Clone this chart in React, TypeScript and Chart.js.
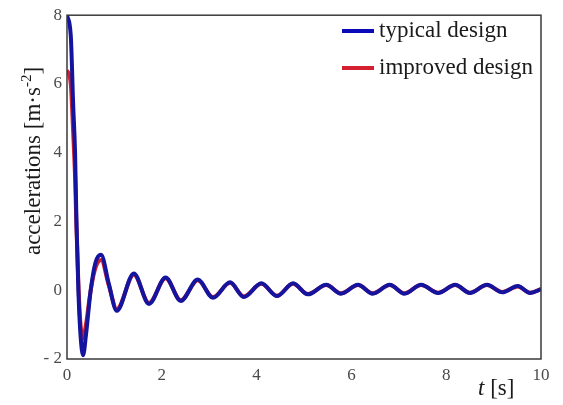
import React, { useEffect, useRef } from "react";
import { Chart, registerables } from "chart.js";

Chart.register(...registerables);

const timeS = [0, 0.08, 0.13, 0.17, 0.2, 0.24, 0.28, 0.34, 0.4, 0.5, 0.6, 0.72, 0.88, 1.05, 1.41, 1.73, 2.08, 2.4, 2.76, 3.08, 3.44, 3.73, 4.1, 4.43, 4.77, 5.08, 5.47, 5.78, 6.14, 6.45, 6.81, 7.12, 7.47, 7.83, 8.19, 8.5, 8.86, 9.18, 9.51, 9.77, 10];
const typicalDesign = [8, 7.4, 5.4, 4, 2, 0, -1.2, -1.89, -1.3, 0, 0.8, 1.03, 0.2, -0.6, 0.49, -0.4, 0.37, -0.31, 0.31, -0.22, 0.23, -0.2, 0.2, -0.17, 0.2, -0.12, 0.16, -0.1, 0.16, -0.1, 0.16, -0.1, 0.16, -0.08, 0.16, -0.08, 0.16, -0.06, 0.12, -0.08, 0.03];
const improvedDesign = [6.4, 6.0, 4.6, 3.3, 1.8, 0.2, -0.9, -1.4, -1.0, 0, 0.65, 0.88, 0.15, -0.55, 0.45, -0.37, 0.35, -0.29, 0.29, -0.2, 0.22, -0.18, 0.19, -0.16, 0.19, -0.11, 0.15, -0.09, 0.15, -0.09, 0.15, -0.09, 0.15, -0.07, 0.15, -0.07, 0.15, -0.05, 0.11, -0.07, 0.03];
const seriesLabels = ["typical design", "improved design"];
const seriesColors = ["#14149e", "#d0202c"];
const legendColors = ["#0a0ab8", "#d42030"];
const yTitleMain = "accelerations [m·s";
const yTitleSup = "-2";
const yTitleEnd = "]";
const xTitleVar = "t";
const xTitleUnit = " [s]";

const SERIF = "'Liberation Serif', 'Times New Roman', serif";

export default function App() {
  const ref = useRef<HTMLCanvasElement | null>(null);
  useEffect(() => {
    document.body.style.margin = "0";
    const canvas = ref.current;
    if (!canvas) return;

    const overlay = {
      id: "overlay",
      afterDatasetsDraw(chart: any) {
        const ctx = chart.ctx;
        const a = chart.chartArea;
        ctx.save();
        // frame
        ctx.strokeStyle = "#3a3a3a";
        ctx.lineWidth = 1.5;
        ctx.strokeRect(a.left, a.top, a.right - a.left, a.bottom - a.top);

        // legend
        ctx.textBaseline = "middle";
        ctx.textAlign = "left";
        ctx.font = `23px ${SERIF}`;
        const rows = [31, 68];
        chart.data.datasets.forEach((ds: any, i: number) => {
          const y = rows[i];
          ctx.strokeStyle = legendColors[i];
          ctx.lineWidth = 4;
          ctx.beginPath();
          ctx.moveTo(342, y);
          ctx.lineTo(374, y);
          ctx.stroke();
          ctx.fillStyle = "#1a1a1a";
          ctx.fillText(ds.label, 379, y);
        });

        // y title (rotated, with superscript)
        ctx.save();
        ctx.translate(32, 161);
        ctx.rotate(-Math.PI / 2);
        ctx.fillStyle = "#1a1a1a";
        ctx.textBaseline = "alphabetic";
        ctx.font = `23px ${SERIF}`;
        const wMain = ctx.measureText(yTitleMain).width;
        const wEnd = ctx.measureText(yTitleEnd).width;
        ctx.font = `15px ${SERIF}`;
        const wSup = ctx.measureText(yTitleSup).width;
        const total = wMain + wSup + wEnd;
        let x0 = -total / 2;
        const base = 8;
        ctx.font = `23px ${SERIF}`;
        ctx.fillText(yTitleMain, x0, base);
        x0 += wMain;
        ctx.font = `15px ${SERIF}`;
        ctx.fillText(yTitleSup, x0, base - 9);
        x0 += wSup;
        ctx.font = `23px ${SERIF}`;
        ctx.fillText(yTitleEnd, x0, base);
        ctx.restore();

        // x title
        ctx.textAlign = "left";
        ctx.textBaseline = "middle";
        ctx.fillStyle = "#1a1a1a";
        ctx.font = `italic 23px ${SERIF}`;
        ctx.fillText(xTitleVar, 478, 389);
        const w = ctx.measureText(xTitleVar).width;
        ctx.font = `23px ${SERIF}`;
        ctx.fillText(xTitleUnit, 478 + w, 389);
        ctx.restore();
      },
    };

    const chart = new Chart(canvas, {
      type: "line",
      data: {
        datasets: [
          {
            label: seriesLabels[0],
            data: timeS.map((t, i) => ({ x: t, y: typicalDesign[i] })),
            borderColor: seriesColors[0],
            borderWidth: 4,
            pointRadius: 0,
            cubicInterpolationMode: "monotone",
          },
          {
            label: seriesLabels[1],
            data: timeS.map((t, i) => ({ x: t, y: improvedDesign[i] })),
            borderColor: seriesColors[1],
            borderWidth: 4,
            pointRadius: 0,
            cubicInterpolationMode: "monotone",
          },
        ],
      },
      options: {
        animation: false,
        responsive: false,
        devicePixelRatio: 1,
        layout: { padding: { left: 0, right: 22, top: 9, bottom: 0 } },
        plugins: { legend: { display: false }, tooltip: { enabled: false } },
        scales: {
          x: {
            type: "linear",
            min: 0,
            max: 10,
            grid: { display: false, drawTicks: false },
            border: { display: false },
            ticks: {
              stepSize: 2,
              padding: 6,
              color: "#4a4a4a",
              font: { family: SERIF, size: 17 },
              maxRotation: 0,
            },
            afterFit: (s: any) => {
              s.height = 46;
            },
          },
          y: {
            min: -2,
            max: 8,
            grid: { display: false, drawTicks: false },
            border: { display: false },
            ticks: {
              stepSize: 2,
              padding: 5,
              color: "#4a4a4a",
              font: { family: SERIF, size: 17 },
              callback: (v: any) => (v < 0 ? "- " + Math.abs(v) : String(v)),
            },
            afterFit: (s: any) => {
              s.width = 67;
            },
          },
        },
      },
      plugins: [overlay],
    });
    return () => chart.destroy();
  }, []);

  return (
    <div style={{ width: 563, height: 405 }}>
      <canvas ref={ref} width={563} height={405} />
    </div>
  );
}
